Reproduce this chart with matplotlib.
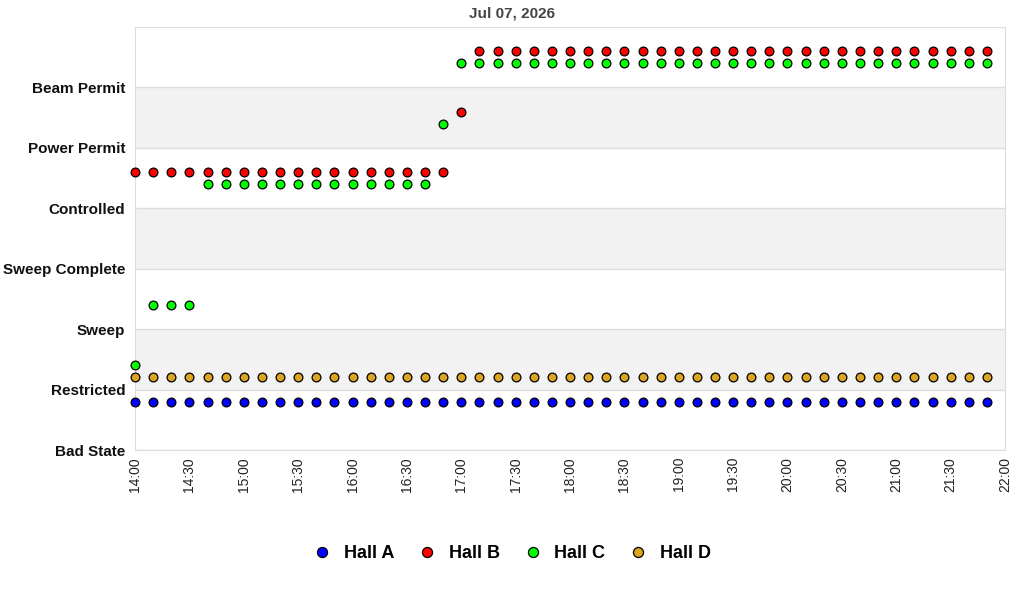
import matplotlib.pyplot as plt
import matplotlib.dates as mdates
import pandas as pd

plt.rcParams["font.family"] = ["Liberation Sans", "DejaVu Sans"]

states = ["Bad State", "Restricted", "Sweep", "Sweep Complete",
          "Controlled", "Power Permit", "Beam Permit"]

times = pd.date_range("2026-07-07 14:00", "2026-07-07 21:50", freq="10min")

# one state per 10-minute sample, 14:00 .. 21:50
hall_a = ["Bad State"] * 48
hall_b = ["Controlled"] * 18 + ["Power Permit"] * 1 + ["Beam Permit"] * 29
hall_c = (["Restricted"] * 1 + ["Sweep"] * 3 + ["Controlled"] * 13
          + ["Power Permit"] * 1 + ["Beam Permit"] * 30)
hall_d = ["Restricted"] * 48

halls = ["Hall A", "Hall B", "Hall C", "Hall D"]
series = [hall_a, hall_b, hall_c, hall_d]
colors = ["#0000FF", "#FF0000", "#00FF00", "#DAA520"]
offsets = [0.8, 0.6, 0.4, 0.2]

fig = plt.figure(figsize=(10.24, 6.0), dpi=100)
ax = fig.add_axes([135 / 1024, 150 / 600, 870 / 1024, 423 / 600])

for i in range(len(states)):
    if i % 2 == 1:
        ax.axhspan(i, i + 1, color="#F2F2F2", zorder=0, lw=0)
    ax.axhline(i, color="#DDDDDD", lw=1, zorder=1)

for name, vals, col, off in zip(halls, series, colors, offsets):
    y = [states.index(v) + off for v in vals]
    ax.plot(times, y, ls="none", marker="o", ms=6.3, mfc=col, mec="black",
            mew=0.9, label=name, clip_on=False, zorder=3)

ax.set_ylim(0, len(states))
ax.set_yticks(range(len(states)))
ax.set_yticklabels(states, fontsize=11, fontweight="bold", color="#111111")
ax.set_xlim(pd.Timestamp("2026-07-07 14:00"), pd.Timestamp("2026-07-07 22:00"))
ax.xaxis.set_major_locator(mdates.MinuteLocator(byminute=[0, 30]))
ax.xaxis.set_major_formatter(mdates.DateFormatter("%H:%M"))
plt.setp(ax.get_xticklabels(), rotation=90, fontsize=10, color="#222222")
ax.tick_params(axis="y", length=0, pad=7)
ax.tick_params(axis="x", length=0, pad=5)
for s in ax.spines.values():
    s.set_color("#DDDDDD")

fig.text(0.5, 1 - 13 / 600, "Jul 07, 2026", ha="center", va="center",
         fontsize=11, fontweight="bold", color="#444444")

fig.legend(loc="center", bbox_to_anchor=(0.5, 46 / 600), ncol=4,
           frameon=False, prop={"size": 13, "weight": "bold"},
           handlelength=1.0, handletextpad=0.67, columnspacing=1.35,
           markerscale=1.15)

plt.savefig("out.png", dpi=100)
